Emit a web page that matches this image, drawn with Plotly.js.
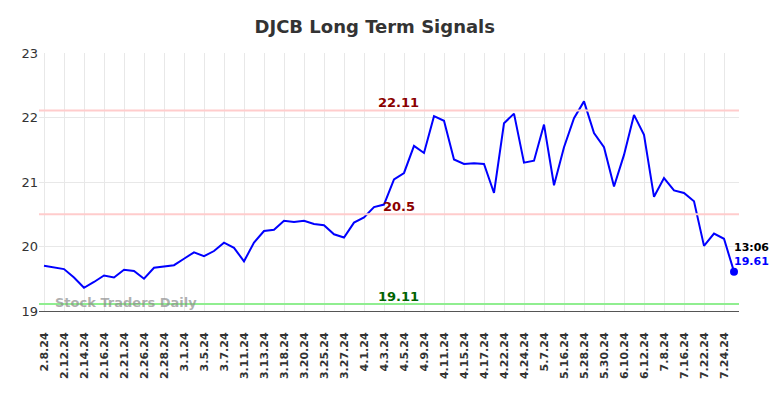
<!DOCTYPE html>
<html>
<head>
<meta charset="utf-8">
<script src="https://cdn.plot.ly/plotly-3.0.1.min.js"></script>
<style>html,body{margin:0;padding:0;background:#fff;}#chart{width:784px;height:398px;}</style>
</head>
<body>
<div id="chart"></div>
<script>
const dates = [
  "2.8.24","2.9.24","2.12.24","2.13.24","2.14.24","2.15.24","2.16.24","2.20.24","2.21.24","2.22.24",
  "2.26.24","2.27.24","2.28.24","2.29.24","3.1.24","3.4.24","3.5.24","3.6.24","3.7.24","3.8.24",
  "3.11.24","3.12.24","3.13.24","3.14.24","3.18.24","3.19.24","3.20.24","3.21.24","3.25.24","3.26.24",
  "3.27.24","3.28.24","4.1.24","4.2.24","4.3.24","4.4.24","4.5.24","4.8.24","4.9.24","4.10.24",
  "4.11.24","4.12.24","4.15.24","4.16.24","4.17.24","4.18.24","4.22.24","4.23.24","4.24.24","4.26.24",
  "5.7.24","5.9.24","5.16.24","5.21.24","5.28.24","5.29.24","5.30.24","6.3.24","6.10.24","6.11.24",
  "6.12.24","6.14.24","7.8.24","7.10.24","7.16.24","7.18.24","7.22.24","7.23.24","7.24.24","7.25.24"
];
const prices = [
  19.70,19.68,19.65,19.52,19.36,19.45,19.55,19.52,19.64,19.62,
  19.50,19.67,19.69,19.71,19.81,19.91,19.85,19.93,20.06,19.98,
  19.77,20.06,20.24,20.26,20.40,20.38,20.40,20.35,20.33,20.19,
  20.14,20.37,20.45,20.61,20.65,21.04,21.14,21.56,21.45,22.02,
  21.95,21.35,21.28,21.29,21.28,20.83,21.91,22.06,21.30,21.33,
  21.89,20.95,21.54,21.99,22.25,21.76,21.54,20.93,21.42,22.04,
  21.73,20.77,21.06,20.87,20.83,20.70,20.01,20.20,20.12,19.61
];
const upperLevel = 22.11;
const midLevel = 20.5;
const lowerLevel = 19.11;
const lastTime = "13:06";
const yTicks = [19, 20, 21, 22, 23];

const n = dates.length;
const lastDate = dates[n - 1];
const lastPrice = prices[n - 1];

const traces = [
  {x: dates, y: prices, type: 'scatter', mode: 'lines',
   line: {color: '#0000ff', width: 2}, hoverinfo: 'x+y'},
  {x: [lastDate], y: [lastPrice], type: 'scatter', mode: 'markers',
   marker: {color: '#0000ff', size: 8}, hoverinfo: 'x+y'}
];

function hline(v, color) {
  return {type: 'line', xref: 'paper', x0: 0, x1: 1, yref: 'y', y0: v, y1: v,
          line: {color: color, width: 2}, layer: 'above'};
}

const layout = {
  width: 784, height: 398,
  margin: {l: 39, r: 45, t: 53, b: 87},
  paper_bgcolor: '#fff', plot_bgcolor: '#fff',
  showlegend: false,
  title: {text: 'DJCB Long Term Signals', x: 0.478, xanchor: 'center', y: 0.932, yanchor: 'middle',
          font: {family: 'DejaVu Sans', size: 18, color: '#333', weight: 'bold'}},
  xaxis: {type: 'category', categoryorder: 'array', categoryarray: dates,
          range: [-0.5, n - 0.5], dtick: 2, tickangle: -90,
          showgrid: true, gridcolor: '#e8e8e8', gridwidth: 1,
          showline: true, linecolor: '#555', linewidth: 1, ticks: '',
          ticklabelstandoff: 16,
          tickfont: {family: 'DejaVu Sans', size: 11, color: '#333', weight: 'bold'},
          zeroline: false, fixedrange: true},
  yaxis: {range: [19, 23], tickvals: yTicks, ticktext: yTicks.map(String),
          showgrid: true, gridcolor: '#e8e8e8', gridwidth: 1,
          zeroline: false, showline: false, ticks: '',
          tickfont: {family: 'DejaVu Sans', size: 13, color: '#333'}, fixedrange: true},
  shapes: [hline(upperLevel, '#ffcccc'), hline(midLevel, '#ffcccc'), hline(lowerLevel, '#90ee90')],
  annotations: [
    {xref: 'paper', x: 0.514, yref: 'y', y: upperLevel, yanchor: 'bottom', yshift: -2, showarrow: false,
     text: String(upperLevel), font: {family: 'DejaVu Sans', size: 13, color: '#8b0000', weight: 'bold'}},
    {xref: 'paper', x: 0.514, yref: 'y', y: midLevel, yanchor: 'bottom', yshift: -2, showarrow: false,
     text: String(midLevel), font: {family: 'DejaVu Sans', size: 13, color: '#8b0000', weight: 'bold'}},
    {xref: 'paper', x: 0.514, yref: 'y', y: lowerLevel, yanchor: 'bottom', yshift: -2, showarrow: false,
     text: String(lowerLevel), font: {family: 'DejaVu Sans', size: 13, color: '#006400', weight: 'bold'}},
    {xref: 'paper', x: 0.02, xanchor: 'left', yref: 'y', y: lowerLevel, yanchor: 'middle', yshift: 1,
     showarrow: false, text: 'Stock Traders Daily',
     font: {family: 'DejaVu Sans', size: 13, color: 'rgba(140,140,140,0.7)', weight: 'bold'}},
    {xref: 'x', x: lastDate, yref: 'y', y: lastPrice, xanchor: 'left', yanchor: 'bottom',
     xshift: -2, yshift: 16, showarrow: false, text: lastTime,
     font: {family: 'DejaVu Sans', size: 11, color: '#000', weight: 'bold'}},
    {xref: 'x', x: lastDate, yref: 'y', y: lastPrice, xanchor: 'left', yanchor: 'bottom',
     xshift: -2, yshift: 2, showarrow: false, text: String(lastPrice),
     font: {family: 'DejaVu Sans', size: 11, color: '#0000ff', weight: 'bold'}}
  ]
};

Plotly.newPlot('chart', traces, layout, {displayModeBar: false, staticPlot: true});
</script>
</body>
</html>
